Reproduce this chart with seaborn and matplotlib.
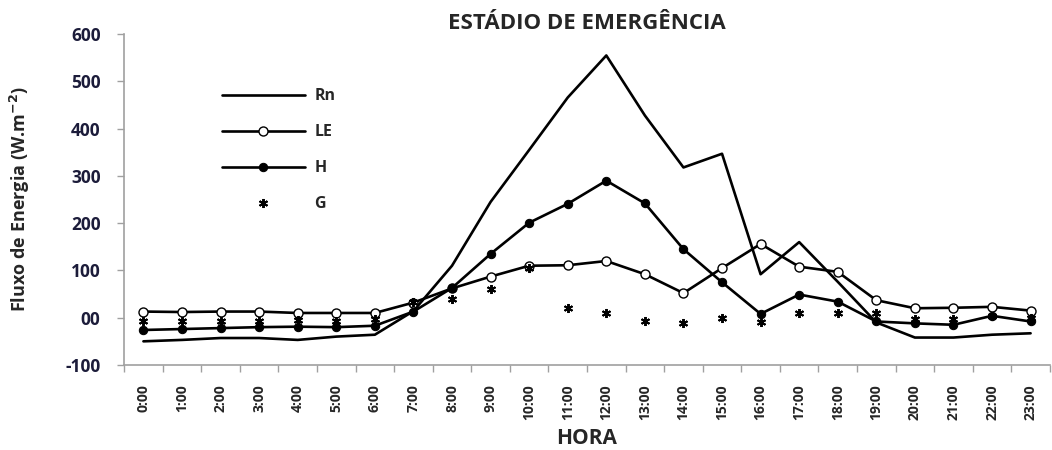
#!/usr/bin/env python3
""" Energy balance components along the day, emergence stage.

"""
import matplotlib
matplotlib.use("Agg")
import matplotlib.pyplot as plt
import numpy as np
import pandas as pd
import seaborn as sns

hours = ["0:00", "1:00", "2:00", "3:00", "4:00", "5:00", "6:00", "7:00", "8:00", "9:00",
         "10:00", "11:00", "12:00", "13:00", "14:00", "15:00", "16:00", "17:00", "18:00",
         "19:00", "20:00", "21:00", "22:00", "23:00"]

rn = [-50, -47, -43, -43, -47, -40, -36, 14, 110, 245, 355, 466, 555, 428, 318, 347,
      92, 160, 76, -10, -42, -42, -36, -33]
le = [13, 12, 13, 13, 10, 10, 10, 32, 62, 87, 110, 111, 120, 92, 52, 105,
      156, 108, 97, 37, 20, 21, 23, 15]
h = [-26, -24, -22, -20, -19, -20, -17, 13, 63, 135, 201, 241, 290, 242, 145, 75,
     8, 49, 34, -8, -12, -15, 4, -8]
g = [-8, -7, -6, -6, -5, -6, -3, 34, 40, 61, 106, 20, 9, -8, -12, 0,
     -10, 11, 11, 10, -3, -3, 4, 0]

y_ticks = [-100, 0, 100, 200, 300, 400, 500, 600]
y_tick_labels = ["-100", "00", "100", "200", "300", "400", "500", "600"]


if __name__ == "__main__":
    sns.set_style("white")
    plt.rcParams["font.family"] = ["Open Sans", "DejaVu Sans"]
    plt.rcParams["font.weight"] = "bold"
    plt.rcParams["mathtext.default"] = "bf"

    df = pd.DataFrame({"pos": np.arange(len(hours)), "Rn": rn, "LE": le, "H": h, "G": g})

    fig = plt.figure(figsize=(10.52, 4.5), dpi=100)
    ax = fig.add_axes((0.118, 0.189, 0.880, 0.735))

    sns.lineplot(data=df, x="pos", y="Rn", color="black", linewidth=1.9,
                 ax=ax, label="Rn")
    sns.lineplot(data=df, x="pos", y="LE", color="black", linewidth=1.9,
                 marker="o", markersize=6.5, markerfacecolor="white",
                 markeredgecolor="black", markeredgewidth=1.0, ax=ax, label="LE")
    sns.lineplot(data=df, x="pos", y="H", color="black", linewidth=1.9,
                 marker="o", markersize=6, markerfacecolor="black",
                 markeredgecolor="black", ax=ax, label="H")
    sns.lineplot(data=df, x="pos", y="G", color="black", linestyle="none",
                 marker=(6, 2, 0), markersize=6.5, markeredgewidth=1.4,
                 markeredgecolor="black", ax=ax, label="G")

    ax.set_xlim(-0.5, len(hours) - 0.5)
    ax.set_ylim(-100, 600)

    # Excel style: ticks between categories, labels at the centres.
    ax.set_xticks(np.arange(-0.5, len(hours), 1.0))
    ax.set_xticklabels([])
    ax.set_xticks(np.arange(len(hours)), minor=True)
    ax.set_xticklabels(hours, minor=True, rotation=90, fontsize=10, fontweight="bold")
    ax.tick_params(axis="x", which="minor", length=0, pad=14)
    ax.tick_params(axis="x", which="major", length=5, width=1, color="#a0a0a0", direction="out")

    ax.set_yticks(y_ticks)
    ax.set_yticklabels(y_tick_labels, fontsize=12.5, fontweight="bold", color="#1c1c3a")
    ax.tick_params(axis="y", length=5, width=1, color="#a0a0a0", direction="out", pad=12)
    ax.tick_params(left=True, bottom=True)

    for side in ["top", "right"]:
        ax.spines[side].set_visible(False)
    for side in ["left", "bottom"]:
        ax.spines[side].set_color("#a0a0a0")
        ax.spines[side].set_linewidth(1.2)

    ax.set_xlabel("HORA", fontsize=15, fontweight="bold")
    ax.xaxis.set_label_coords(0.5, -0.19)
    ax.set_ylabel("Fluxo de Energia (W.m$^{-2}$)", fontsize=13, fontweight="bold")
    ax.yaxis.set_label_coords(-0.099, 0.50)
    ax.set_title("ESTÁDIO DE EMERGÊNCIA", fontsize=16, fontweight="bold", pad=4)

    ax.legend(loc="upper left", bbox_to_anchor=(0.09, 0.88), frameon=False,
              handlelength=5.2, labelspacing=1.25, handletextpad=0.6,
              prop={"weight": "bold", "size": 11.5})

    fig.savefig("out.png", dpi=100)
